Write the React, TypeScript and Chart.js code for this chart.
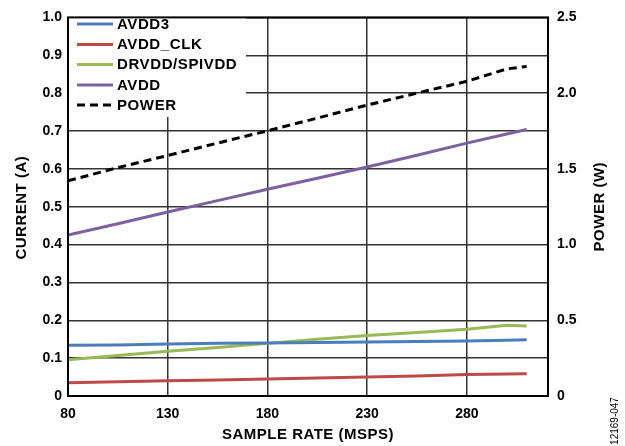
import React, { useEffect, useRef } from 'react';
import { Chart, registerables } from 'chart.js';

Chart.register(...registerables);

// ---- data ----
const sampleRate = [80, 105, 130, 155, 180, 205, 230, 255, 280, 300, 310];
const avdd3 = [0.134, 0.135, 0.1375, 0.139, 0.14, 0.141, 0.1428, 0.144, 0.1454, 0.147, 0.1488];
const avddClk = [0.035, 0.0375, 0.04, 0.0425, 0.045, 0.0475, 0.05, 0.053, 0.0566, 0.058, 0.059];
const drvdd = [0.096, 0.107, 0.118, 0.128, 0.139, 0.15, 0.16, 0.168, 0.176, 0.187, 0.185];
const avdd = [0.425, 0.455, 0.486, 0.516, 0.546, 0.575, 0.605, 0.636, 0.668, 0.692, 0.704];
const power = [1.421, 1.508, 1.588, 1.67, 1.751, 1.835, 1.921, 2.0, 2.078, 2.16, 2.176];

const xTicks = [80, 130, 180, 230, 280];
const seriesLabels = ['AVDD3', 'AVDD_CLK', 'DRVDD/SPIVDD', 'AVDD', 'POWER'];
const seriesColors = ['#4a7ebb', '#be4b48', '#98b954', '#7d60a0', '#000000'];
const xTitle = 'SAMPLE RATE (MSPS)';
const yTitle = 'CURRENT (A)';
const y1Title = 'POWER (W)';
const figId = '12169-047';

const FONT = '"Liberation Sans", Arial, sans-serif';
const GRID = '#333333';

function drawText(ctx: CanvasRenderingContext2D, s: string, x: number, y: number, font: string, spacing: number, rot = 0, align: CanvasTextAlign = 'center') {
  ctx.save();
  ctx.translate(x, y);
  ctx.rotate(rot);
  ctx.font = font;
  (ctx as any).letterSpacing = spacing + 'px';
  ctx.textAlign = align;
  ctx.textBaseline = 'middle';
  ctx.fillStyle = '#000';
  ctx.fillText(s, 0, 0);
  ctx.restore();
}

const decor = {
  id: 'decor',
  beforeDatasetsDraw(chart: any) {
    const { ctx, chartArea: a } = chart;
    ctx.save();
    ctx.fillStyle = '#fff';
    ctx.fillRect(a.left, a.top, 246 - a.left, 117 - a.top);
    ctx.restore();
  },
  afterDraw(chart: any) {
    const { ctx, chartArea: a } = chart;
    // frame
    ctx.save();
    ctx.strokeStyle = '#000';
    ctx.lineWidth = 2;
    ctx.strokeRect(a.left, a.top, a.right - a.left, a.bottom - a.top);
    ctx.restore();

    // legend
    const ys = [24, 44.5, 64.5, 85, 105];
    chart.data.datasets.forEach((ds: any, i: number) => {
      const y = ys[i];
      ctx.save();
      ctx.strokeStyle = ds.borderColor;
      ctx.lineWidth = 3;
      ctx.setLineDash(ds.borderDash || []);
      ctx.beginPath();
      ctx.moveTo(77, y);
      ctx.lineTo(113, y);
      ctx.stroke();
      ctx.restore();
      drawText(ctx, ds.label, 117, y + 0.5, `bold 15px ${FONT}`, 0.6, 0, 'left');
    });

    // axis titles
    const cx = (a.left + a.right) / 2;
    const cy = (a.top + a.bottom) / 2;
    drawText(ctx, xTitle, cx, 435, `bold 15px ${FONT}`, 0.5);
    drawText(ctx, yTitle, 22, cy + 1, `bold 15px ${FONT}`, 0.5, -Math.PI / 2);
    drawText(ctx, y1Title, 600, cy, `bold 15px ${FONT}`, 0.5, -Math.PI / 2);
    drawText(ctx, figId, 615, 421, `10px ${FONT}`, 0, -Math.PI / 2);
  },
};

export default function App() {
  const ref = useRef<HTMLCanvasElement | null>(null);

  useEffect(() => {
    if (!ref.current) return;
    const mk = (vals: number[]) => sampleRate.map((x, i) => ({ x, y: vals[i] }));
    const seriesData = [avdd3, avddClk, drvdd, avdd, power];
    const chart = new Chart(ref.current, {
      type: 'line',
      data: {
        datasets: seriesData.map((vals, i) => ({
          label: seriesLabels[i],
          data: mk(vals),
          borderColor: seriesColors[i],
          backgroundColor: seriesColors[i],
          borderWidth: 3,
          borderDash: i === 4 ? [8, 5] : [],
          pointRadius: 0,
          tension: 0,
          fill: false,
          yAxisID: i === 4 ? 'y1' : 'y',
        })),
      },
      options: {
        responsive: false,
        devicePixelRatio: 1,
        animation: false,
        layout: { padding: { top: 13, left: 0, right: 0, bottom: 0 } },
        plugins: { legend: { display: false }, tooltip: { enabled: false } },
        scales: {
          x: {
            type: 'linear',
            min: 80,
            max: 320.7,
            afterBuildTicks: (s: any) => {
              s.ticks = xTicks.map((v) => ({ value: v }));
            },
            afterFit: (s: any) => {
              s.height = 50;
            },
            grid: { color: GRID, lineWidth: 1.5, drawTicks: false },
            border: { display: false },
            ticks: {
              color: '#000',
              font: { family: FONT, size: 14, weight: 'bold' },
              padding: 10,
              maxRotation: 0,
              autoSkip: false,
            },
          },
          y: {
            position: 'left',
            min: 0,
            max: 1,
            afterFit: (s: any) => {
              s.width = 68;
            },
            grid: { color: GRID, lineWidth: 1.5, drawTicks: false },
            border: { display: false },
            ticks: {
              stepSize: 0.1,
              color: '#000',
              font: { family: FONT, size: 14, weight: 'bold' },
              padding: 6,
              callback: (v: any) => (Math.abs(v) < 1e-9 ? '0' : Number(v).toFixed(1)),
            },
          },
          y1: {
            position: 'right',
            min: 0,
            max: 2.5,
            afterFit: (s: any) => {
              s.width = 77;
            },
            grid: { display: false, drawTicks: false },
            border: { display: false },
            ticks: {
              stepSize: 0.5,
              color: '#000',
              font: { family: FONT, size: 14, weight: 'bold' },
              padding: 9,
              callback: (v: any) => (Math.abs(v) < 1e-9 ? '0' : Number(v).toFixed(1)),
            },
          },
        },
      } as any,
      plugins: [decor],
    });
    return () => chart.destroy();
  }, []);

  return (
    <div style={{ position: 'absolute', left: 0, top: 0, width: 625, height: 446, background: '#fff' }}>
      <canvas ref={ref} width={625} height={446} />
    </div>
  );
}
